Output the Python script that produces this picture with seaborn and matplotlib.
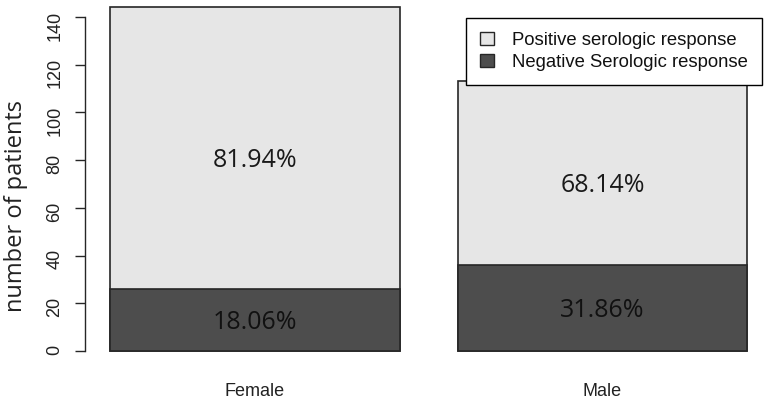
import pandas as pd
import seaborn as sns
import matplotlib.pyplot as plt
from matplotlib.patches import Patch

# data
sex = ["Female", "Male"]
negative = [26, 36]
positive = [118, 77]
pos_labels = ["81.94%", "68.14%"]
neg_labels = ["18.06%", "31.86%"]
y_ticks = [0, 20, 40, 60, 80, 100, 120, 140]
legend_labels = ["Positive serologic response", "Negative Serologic response"]

pos_color = "#e6e6e6"
neg_color = "#4d4d4d"
edge = "#262626"

sns.set_theme(style="white")
plt.rcParams["font.family"] = ["Liberation Sans", "DejaVu Sans"]

df = pd.DataFrame({"Sex": sex, "Negative": negative, "Positive": positive})
df["Total"] = df["Negative"] + df["Positive"]

fig = plt.figure(figsize=(7.65, 4.01), dpi=100)
ax = fig.add_axes([85 / 765, 36 / 401, 680 / 765, 365 / 401])

bar_w = 1 / 1.2
sns.barplot(data=df, x="Sex", y="Total", color=pos_color, width=bar_w, saturation=1,
            edgecolor=edge, linewidth=1.2, errorbar=None, ax=ax)
sns.barplot(data=df, x="Sex", y="Negative", color=neg_color, width=bar_w, saturation=1,
            edgecolor=edge, linewidth=1.2, errorbar=None, ax=ax)

# percentage labels inside each segment (a little under the middle)
for i, row in df.iterrows():
    ax.text(i, row["Negative"] + row["Positive"] / 2 - 5, pos_labels[i], ha="center", va="center",
            fontsize=18, family=["Open Sans", "DejaVu Sans"], color="#1a1a1a")
    ax.text(i, row["Negative"] / 2 - 1, neg_labels[i], ha="center", va="center",
            fontsize=18, family=["Open Sans", "DejaVu Sans"], color="#111111")

ax.set_xlim(-0.4893, 1.468)
ax.set_ylim(-5.868, 147.13)
ax.set_yticks(y_ticks)
ax.tick_params(axis="y", left=True, labelrotation=90, length=7.2, width=1, pad=8.5,
               labelsize=13, color=edge, labelcolor="#222222")
ax.tick_params(axis="x", bottom=False, length=0, pad=13, labelsize=13, labelcolor="#222222")
ax.set_xlabel("")
ax.set_ylabel("number of patients", fontsize=17, family=["Open Sans", "DejaVu Sans"], color="#222222")
ax.yaxis.set_label_coords(-0.084, (365 - 206) / 365)

sns.despine(ax=ax, bottom=True)
ax.spines["left"].set_bounds(0, 140)
ax.spines["left"].set_color(edge)
ax.spines["left"].set_linewidth(1)

handles = [Patch(facecolor=pos_color, edgecolor=edge, label=legend_labels[0]),
           Patch(facecolor=neg_color, edgecolor=edge, label=legend_labels[1])]
leg = ax.legend(handles=handles, loc="upper right", bbox_to_anchor=(762 / 765, 1 - 18 / 401),
                bbox_transform=fig.transFigure, frameon=True, fancybox=False, edgecolor="black",
                framealpha=1, fontsize=13.3, handlelength=0.75, handleheight=0.75, handletextpad=1.0,
                borderpad=0.75, labelspacing=0.25, borderaxespad=0)
leg.get_frame().set_linewidth(1)
for t in leg.get_texts():
    t.set_color("#111111")

fig.savefig("out.png", dpi=100)
